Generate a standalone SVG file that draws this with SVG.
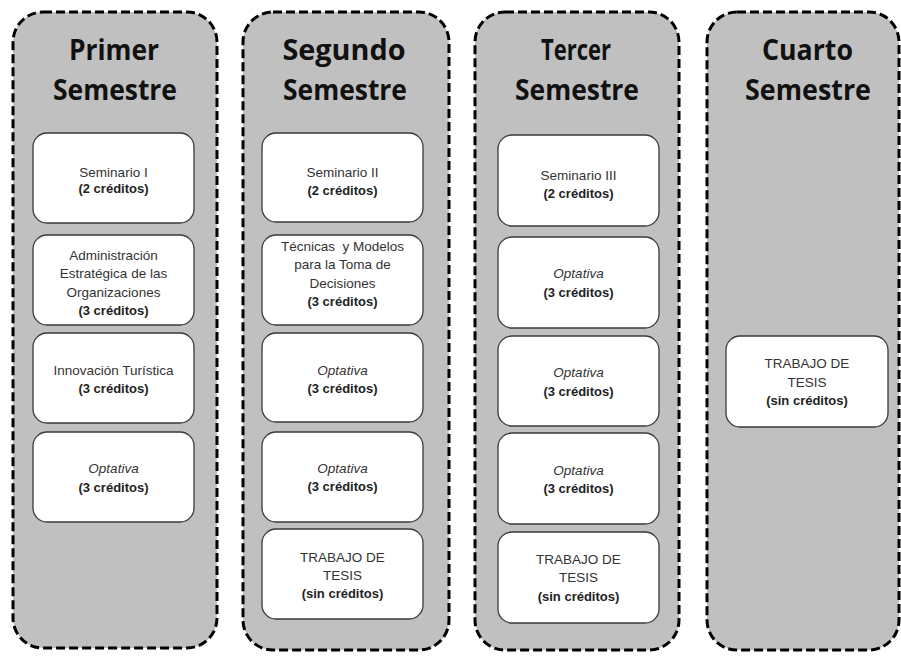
<svg xmlns="http://www.w3.org/2000/svg" width="901" height="658" viewBox="0 0 901 658">
<style>
.col{fill:#c0c0c0;stroke:#000;stroke-width:3;stroke-dasharray:9 4}
.box{fill:#fff;stroke:#3a3a3a;stroke-width:1.3}
.title{font-family:"Open Sans","Noto Sans",sans-serif;font-weight:bold;font-size:28px;fill:#111;text-anchor:middle}
.t{font-family:"Liberation Sans",Arial,sans-serif;font-size:13.5px;fill:#333;text-anchor:middle}
.b{font-family:"Liberation Sans",Arial,sans-serif;font-size:13px;font-weight:bold;fill:#222;text-anchor:middle}
.i{font-style:italic}
</style>
<rect width="901" height="658" fill="#fff"/>
<g id="sem1">
<rect class="col" x="13" y="12" width="204" height="636" rx="30"/>
<text class="title" x="114" y="60" textLength="90" lengthAdjust="spacingAndGlyphs">Primer</text>
<text class="title" x="115" y="100" textLength="124" lengthAdjust="spacingAndGlyphs">Semestre</text>
</g>
<g id="s1b1"><rect class="box" x="33" y="133" width="161" height="90" rx="14"/>
<text class="t" x="113.5" y="176.5">Seminario I</text><text class="b" x="113.5" y="193">(2 créditos)</text></g>
<g id="s1b2"><rect class="box" x="33" y="235" width="161" height="90" rx="14"/>
<text class="t" x="113.5" y="259.5">Administración</text><text class="t" x="113.5" y="277.5">Estratégica de las</text><text class="t" x="113.5" y="296.5">Organizaciones</text><text class="b" x="113.5" y="314.5">(3 créditos)</text></g>
<g id="s1b3"><rect class="box" x="33" y="333" width="161" height="90" rx="14"/>
<text class="t" x="113.5" y="374.5">Innovación Turística</text><text class="b" x="113.5" y="392.5">(3 créditos)</text></g>
<g id="s1b4"><rect class="box" x="33" y="432" width="161" height="90" rx="14"/>
<text class="t i" x="113.5" y="472.5">Optativa</text><text class="b" x="113.5" y="491.5">(3 créditos)</text></g>

<g id="sem2">
<rect class="col" x="243" y="12" width="206" height="638" rx="30"/>
<text class="title" x="344" y="60" textLength="123" lengthAdjust="spacingAndGlyphs">Segundo</text>
<text class="title" x="345" y="100" textLength="124" lengthAdjust="spacingAndGlyphs">Semestre</text>
</g>
<g id="s2b1"><rect class="box" x="262" y="133" width="161" height="89" rx="14"/>
<text class="t" x="342.5" y="176.5">Seminario II</text><text class="b" x="342.5" y="194.5">(2 créditos)</text></g>
<g id="s2b2"><rect class="box" x="262" y="235" width="161" height="90" rx="14"/>
<text class="t" x="342.5" y="250.5" xml:space="preserve">Técnicas  y Modelos</text><text class="t" x="342.5" y="268.5">para la Toma de</text><text class="t" x="342.5" y="287.5">Decisiones</text><text class="b" x="342.5" y="305.5">(3 créditos)</text></g>
<g id="s2b3"><rect class="box" x="262" y="333" width="161" height="89" rx="14"/>
<text class="t i" x="342.5" y="374.5">Optativa</text><text class="b" x="342.5" y="392.5">(3 créditos)</text></g>
<g id="s2b4"><rect class="box" x="262" y="432" width="161" height="90" rx="14"/>
<text class="t i" x="342.5" y="472.5">Optativa</text><text class="b" x="342.5" y="490.5">(3 créditos)</text></g>
<g id="s2b5"><rect class="box" x="262" y="529" width="161" height="90" rx="14"/>
<text class="t" x="342.5" y="561.5">TRABAJO DE</text><text class="t" x="342.5" y="579.5">TESIS</text><text class="b" x="342.5" y="597.5">(sin créditos)</text></g>

<g id="sem3">
<rect class="col" x="475" y="12" width="204" height="638" rx="30"/>
<text class="title" x="576" y="60" textLength="70" lengthAdjust="spacingAndGlyphs">Tercer</text>
<text class="title" x="577" y="100" textLength="124" lengthAdjust="spacingAndGlyphs">Semestre</text>
</g>
<g id="s3b1"><rect class="box" x="498" y="135" width="161" height="91" rx="14"/>
<text class="t" x="578.5" y="179.5">Seminario III</text><text class="b" x="578.5" y="197.5">(2 créditos)</text></g>
<g id="s3b2"><rect class="box" x="498" y="237" width="161" height="91" rx="14"/>
<text class="t i" x="578.5" y="277.5">Optativa</text><text class="b" x="578.5" y="296.5">(3 créditos)</text></g>
<g id="s3b3"><rect class="box" x="498" y="336" width="161" height="90" rx="14"/>
<text class="t i" x="578.5" y="376.5">Optativa</text><text class="b" x="578.5" y="395.5">(3 créditos)</text></g>
<g id="s3b4"><rect class="box" x="498" y="433" width="161" height="91" rx="14"/>
<text class="t i" x="578.5" y="474.5">Optativa</text><text class="b" x="578.5" y="492.5">(3 créditos)</text></g>
<g id="s3b5"><rect class="box" x="498" y="532" width="161" height="91" rx="14"/>
<text class="t" x="578.5" y="563.5">TRABAJO DE</text><text class="t" x="578.5" y="581.5">TESIS</text><text class="b" x="578.5" y="600.5">(sin créditos)</text></g>

<g id="sem4">
<rect class="col" x="707" y="12" width="192" height="638" rx="30"/>
<text class="title" x="807.5" y="60" textLength="91" lengthAdjust="spacingAndGlyphs">Cuarto</text>
<text class="title" x="808" y="100" textLength="126" lengthAdjust="spacingAndGlyphs">Semestre</text>
</g>
<g id="s4b1"><rect class="box" x="726" y="336" width="162" height="91" rx="14"/>
<text class="t" x="807" y="367.5">TRABAJO DE</text><text class="t" x="807" y="386.5">TESIS</text><text class="b" x="807" y="404.5">(sin créditos)</text></g>
</svg>
